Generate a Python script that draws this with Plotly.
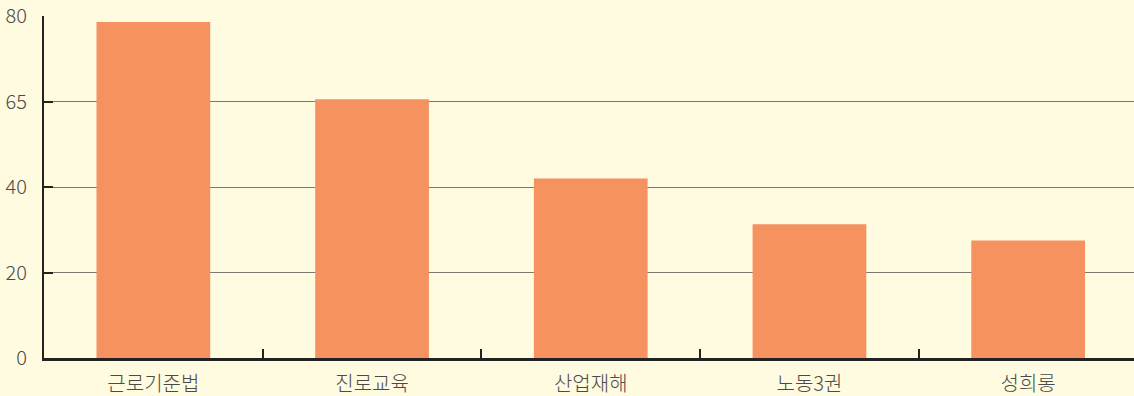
import plotly.graph_objects as go

# 항목별 응답 수
categories = ["근로기준법", "진로교육", "산업재해", "노동3권", "성희롱"]
values = [78.6, 60.5, 42.0, 31.3, 27.5]

y_tickvals = [0, 20, 40, 60, 80]
y_ticktext = ["0", "20", "40", "65", "80"]

bg = "#FEFBE0"
bar_color = "#F5925F"
axis_color = "#222222"
text_color = "#4a4a4a"
font_family = "Noto Sans CJK KR, Noto Sans, sans-serif"

fig = go.Figure(
    go.Bar(
        x=categories,
        y=values,
        marker=dict(color=bar_color, line=dict(width=0)),
        hoverinfo="x+y",
    )
)

fig.update_layout(
    width=1134,
    height=396,
    margin=dict(l=44, r=0, t=16, b=38),
    paper_bgcolor=bg,
    plot_bgcolor=bg,
    bargap=0.48,
    showlegend=False,
    font=dict(family=font_family, size=19, color=text_color),
)

fig.update_xaxes(
    type="category",
    range=[-0.5, 4.484],
    showline=True,
    linewidth=2.5,
    linecolor=axis_color,
    ticks="inside",
    tickson="boundaries",
    ticklen=9,
    tickwidth=2,
    tickcolor=axis_color,
    showgrid=False,
    ticklabelstandoff=6,
    tickfont=dict(family=font_family, size=20, color=text_color, weight=300),
)

fig.update_yaxes(
    range=[0, 80],
    tickmode="array",
    tickvals=y_tickvals,
    ticktext=y_ticktext,
    showline=True,
    linewidth=2,
    linecolor=axis_color,
    ticks="inside",
    ticklen=9,
    tickwidth=2,
    tickcolor=axis_color,
    showgrid=True,
    gridcolor="#7a7a72",
    gridwidth=1,
    zeroline=False,
    ticklabelstandoff=11,
    tickfont=dict(family=font_family, size=20, color=text_color, weight=300),
)

fig.write_html("out.html")
